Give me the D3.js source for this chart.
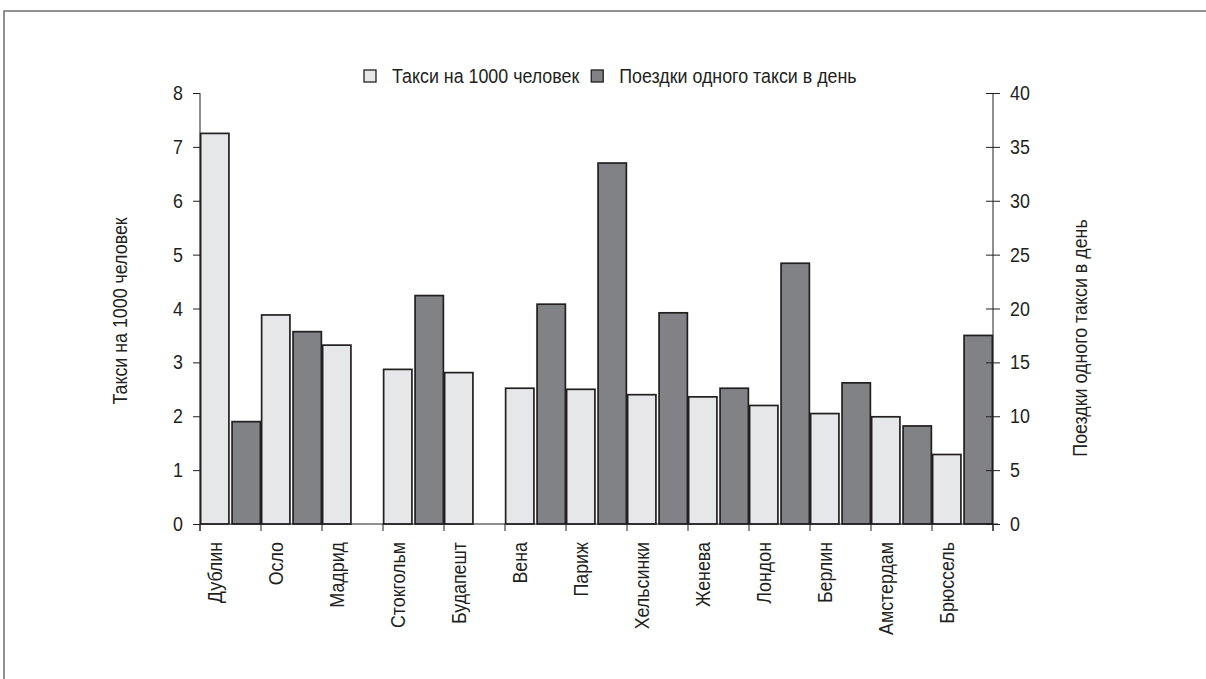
<!DOCTYPE html>
<html>
<head>
<meta charset="utf-8">
<script src="https://cdn.jsdelivr.net/npm/d3@7/dist/d3.min.js"></script>
<style>
  html, body { margin: 0; padding: 0; background: #fff; }
  svg text { font-family: "Liberation Sans", Arial, sans-serif; fill: #231f20; }
</style>
</head>
<body>
<svg id="chart" width="1206" height="679"></svg>
<script>
// Cities, in drawing order
const cities = ["Дублин", "Осло", "Мадрид", "Стокгольм", "Будапешт", "Вена", "Париж",
  "Хельсинки", "Женева", "Лондон", "Берлин", "Амстердам", "Брюссель"];
// Taxis per 1000 inhabitants (left axis)
const taxisPer1000 = [7.25, 3.88, 3.32, 2.87, 2.81, 2.52, 2.50, 2.40, 2.36, 2.20, 2.05, 1.99, 1.29];
// Trips per taxi per day (right axis); null where no figure is given
const tripsPerTaxi = [9.5, 17.85, null, 21.2, null, 20.4, 33.5, 19.6, 12.6, 24.2, 13.1, 9.1, 17.5];
// Axis ticks
const leftTicks = [0, 1, 2, 3, 4, 5, 6, 7, 8];
const rightTicks = [0, 5, 10, 15, 20, 25, 30, 35, 40];
const seriesNames = ["Такси на 1000 человек", "Поездки одного такси в день"];

const fills = ["#e6e7e8", "#808285"];
const ink = "#231f20";
const FONT = "20.5px";
const NARROW = 0.87;   // horizontal squeeze for a condensed look

const svg = d3.select("#chart");

// Outer frame: top and left edges
svg.append("path")
  .attr("d", "M4,679 V11 H1206")
  .attr("fill", "none").attr("stroke", "#6d6e70").attr("stroke-width", 1.5);

const plot = { left: 200, right: 993, top: 93, bottom: 524 };

const x0 = d3.scaleBand().domain(cities).range([plot.left, plot.right]).paddingInner(0).paddingOuter(0);
const x1 = d3.scaleBand().domain([0, 1]).range([0, x0.bandwidth()]).paddingInner(0.1).paddingOuter(0.02);
const yL = d3.scaleLinear().domain([0, 8]).range([plot.bottom, plot.top]);
const yR = d3.scaleLinear().domain([0, 40]).range([plot.bottom, plot.top]);

// Bars
const rows = cities.map((c, i) => ({ city: c, vals: [
  { s: 0, v: taxisPer1000[i], y: yL },
  { s: 1, v: tripsPerTaxi[i], y: yR }
]}));

const g = svg.append("g").selectAll("g").data(rows).join("g")
  .attr("transform", d => `translate(${x0(d.city)},0)`);
g.selectAll("rect").data(d => d.vals.filter(v => v.v != null)).join("rect")
  .attr("x", d => x1(d.s))
  .attr("width", x1.bandwidth())
  .attr("y", d => d.y(d.v))
  .attr("height", d => d.y(0) - d.y(d.v))
  .attr("fill", d => fills[d.s])
  .attr("stroke", ink).attr("stroke-width", 1.7);

// Squeeze tick labels horizontally around their anchor
function narrowTicks(sel) {
  sel.selectAll(".tick text").each(function () {
    const t = d3.select(this);
    const x = +t.attr("x") || 0;
    t.attr("x", 0).attr("transform", `translate(${x},0) scale(${NARROW},1)`)
      .style("font-size", FONT).attr("fill", ink)
      .style("font-family", '"Liberation Sans", Arial, sans-serif');
  });
}

// Left axis
const axL = svg.append("g").attr("transform", `translate(${plot.left},0)`)
  .call(d3.axisLeft(yL).tickValues(leftTicks).tickSize(7).tickPadding(10).tickFormat(d3.format("d")));
axL.select(".domain").attr("d", `M0,${plot.top}V${plot.bottom + 7}`);
narrowTicks(axL);

// Right axis: ticks cross the line
const axR = svg.append("g").attr("transform", `translate(${plot.right},0)`)
  .call(d3.axisRight(yR).tickValues(rightTicks).tickSize(7).tickPadding(10).tickFormat(d3.format("d")));
axR.select(".domain").attr("d", `M0,${plot.top}V${plot.bottom + 7}`);
axR.selectAll(".tick line").attr("x1", -7).attr("x2", 7);
narrowTicks(axR);

[axL, axR].forEach(a => a.selectAll("line, path").attr("stroke", ink));

// Bottom axis: ticks at category boundaries, labels under the first bar
const axB = svg.append("g").attr("transform", `translate(0,${plot.bottom})`);
axB.append("line").attr("x1", plot.left).attr("x2", plot.right + 5)
  .attr("stroke", ink).attr("stroke-width", 1);
axB.selectAll("line.tk").data(d3.range(cities.length + 1)).join("line").attr("class", "tk")
  .attr("x1", i => plot.left + i * x0.step()).attr("x2", i => plot.left + i * x0.step())
  .attr("y1", 0).attr("y2", 7).attr("stroke", ink);
axB.selectAll("text").data(cities).join("text")
  .attr("transform", d => `translate(${x0(d) + x1(0) + x1.bandwidth() / 2},18) rotate(-90) scale(${NARROW},1)`)
  .attr("text-anchor", "end").attr("dy", "0.35em")
  .style("font-size", FONT)
  .text(d => d);

// Axis titles
svg.append("text").attr("transform", `translate(120,311) rotate(-90) scale(${NARROW},1)`)
  .attr("text-anchor", "middle").attr("dy", "0.35em").style("font-size", FONT).text(seriesNames[0]);
svg.append("text").attr("transform", `translate(1080,338) rotate(-90) scale(${NARROW},1)`)
  .attr("text-anchor", "middle").attr("dy", "0.35em").style("font-size", FONT).text(seriesNames[1]);

// Legend
const legend = svg.append("g").attr("transform", "translate(364,76)");
let lx = 0;
seriesNames.forEach((name, i) => {
  const item = legend.append("g").attr("transform", `translate(${lx},0)`);
  item.append("rect").attr("x", 0).attr("y", -6).attr("width", 12).attr("height", 12)
    .attr("fill", fills[i]).attr("stroke", ink).attr("stroke-width", 1.3);
  const t = item.append("text").attr("transform", `translate(28,0) scale(${NARROW},1)`)
    .attr("dy", "0.35em").style("font-size", FONT).text(name);
  lx += 28 + t.node().getComputedTextLength() * NARROW + 12;
});
</script>
</body>
</html>
